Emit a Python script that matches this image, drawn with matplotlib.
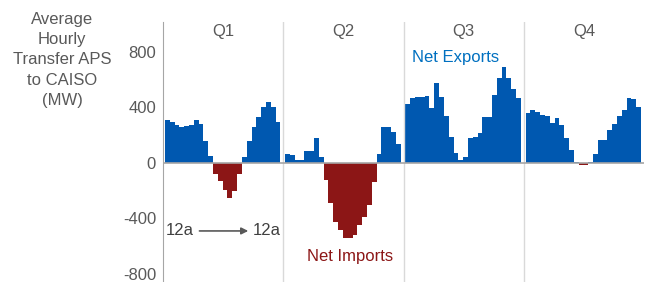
import numpy as np
import matplotlib.pyplot as plt

plt.rcParams['font.family'] = ['Liberation Sans', 'DejaVu Sans']
plt.rcParams['axes.unicode_minus'] = False

# average hourly transfer APS -> CAISO (MW), hours 12a..11p
quarters = ['Q1', 'Q2', 'Q3', 'Q4']
q1 = [310, 298, 274, 257, 269, 276, 310, 281, 161, 48, -79, -130,
      -195, -250, -200, -80, 46, 156, 262, 334, 406, 437, 406, 293]
q2 = [67, 60, 24, 24, 86, 86, 178, 42, -125, -290, -425, -485,
      -538, -538, -521, -449, -389, -305, -137, 65, 256, 259, 223, 137]
q3 = [425, 466, 473, 478, 480, 396, 576, 473, 336, 185, 72, 24,
      41, 178, 185, 216, 334, 334, 492, 610, 694, 610, 533, 468]
q4 = [358, 382, 370, 346, 338, 290, 322, 271, 182, 91, 10, -15,
      -15, 10, 67, 163, 168, 235, 278, 338, 379, 466, 461, 403]
yticks = [-800, -400, 0, 400, 800]

BLUE = '#0058B0'
RED = '#8C1616'
GRAY = '#595959'

fig = plt.figure(figsize=(6.56, 2.82), dpi=100)
ax = fig.add_axes([163 / 656, 0, 481 / 656, 260 / 282])

hours = np.arange(24)
for i, vals in enumerate([q1, q2, q3, q4]):
    vals = np.array(vals)
    x = i * 25 + 0.9 + hours
    colors = np.where(vals >= 0, BLUE, RED)
    ax.bar(x, vals, width=1.0, color=colors, linewidth=0)
    if i > 0:
        ax.axvline(i * 25, color='#D9D9D9', lw=1)
    ax.text(i * 25 + 12.5, 948, quarters[i], ha='center', va='center',
            fontsize=12, color=GRAY)

ax.axhline(0, color='#A6A6A6', lw=1.2)
ax.set_xlim(0, 100)
ax.set_ylim(-858, 1016)
ax.set_yticks(yticks)
ax.set_xticks([])
for s in ['top', 'right', 'bottom']:
    ax.spines[s].set_visible(False)
ax.spines['left'].set_color('#A6A6A6')
ax.tick_params(axis='y', length=0, pad=5, labelsize=12, labelcolor=GRAY)

ax.text(60.8, 760, 'Net Exports', ha='center', va='center', fontsize=12,
        color='#0070C0')
ax.text(38.9, -674, 'Net Imports', ha='center', va='center', fontsize=12,
        color=RED)

# 12a -> 12a marker
ax.text(3.4, -490, '12a', ha='center', va='center', fontsize=12, color='#404040')
ax.text(21.6, -490, '12a', ha='center', va='center', fontsize=12, color='#404040')
ax.annotate('', xy=(18.3, -490), xytext=(7.0, -490),
            arrowprops=dict(arrowstyle='-|>', color='#595959', lw=1.2,
                            mutation_scale=10))

fig.text(62 / 656, 1 - 60 / 282, 'Average\nHourly\nTransfer APS\nto CAISO\n(MW)',
         ha='center', va='center', fontsize=12, color=GRAY, linespacing=1.42)

fig.savefig('out.png', dpi=100)
